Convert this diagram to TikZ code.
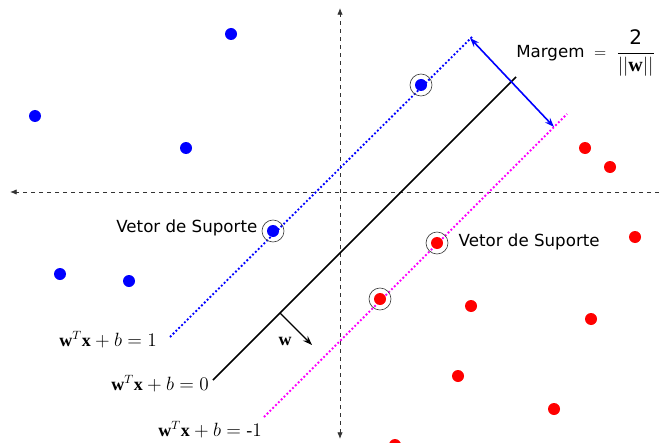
\documentclass[tikz,border=0pt]{standalone}
\usepackage{fontspec}
\setsansfont{DejaVu Sans}
\setmainfont{Liberation Serif}
\usetikzlibrary{arrows.meta}
\definecolor{rosa}{RGB}{255,0,255}

\begin{document}
\begin{tikzpicture}[x=0.75pt, y=-0.75pt, font=\sffamily\fontsize{12.5}{15}\selectfont,
    ponto/.style={circle, inner sep=0pt, minimum size=9pt},
    suporte/.style={circle, draw=black!75, line width=0.5pt, inner sep=0pt, minimum size=16.5pt},
    eixo/.style={dashed, line width=0.6pt, black!80},
    plano/.style={line width=1.4pt, dash pattern=on 1.4pt off 1.6pt},
    eq/.style={font=\rmfamily\fontsize{13.5}{16}\selectfont}]
    \useasboundingbox (0,0) rectangle (659,442);
    % Axes
    \coordinate (xd) at (659,192);
    \coordinate (xe) at (10,192);
    \coordinate (yb) at (340,439);
    \coordinate (yc) at (340,8);
    \draw[eixo, -{Latex[length=5pt,width=4pt]}] (xd) -- (xe);
    \draw[eixo, {Latex[length=5pt,width=4pt]}-{Latex[length=5pt,width=4pt]}] (yb) -- (yc);
    % Hyperplanes
    \coordinate (p1a) at (170,337);
    \coordinate (p1b) at (472,37);
    \coordinate (p0a) at (213,380);
    \coordinate (p0b) at (516,77);
    \coordinate (pma) at (264,417);
    \coordinate (pmb) at (567,114);
    \draw[plano, blue] (p1a) -- (p1b);
    \draw[line width=1.3pt] (p0a) -- (p0b);
    \draw[plano, rosa] (pma) -- (pmb);
    % Normal vector
    \coordinate (w0) at (280,313);
    \coordinate (w1) at (312,345);
    \draw[line width=0.9pt, -{Stealth[length=7pt,width=5pt]}] (w0) -- (w1);
    \node[eq] (wlbl) at (285,341) {$\mathbf{w}$};
    % Margin
    \coordinate (m1) at (470,38);
    \coordinate (m2) at (554,127);
    \draw[blue, line width=1.2pt, {Stealth[length=7pt,width=5pt]}-{Stealth[length=7pt,width=5pt]}] (m1) -- (m2);
    \node[anchor=west, inner sep=0pt] (margem) at (516,53) {Margem $\;=\;$ {\fontsize{15}{18}\selectfont$\displaystyle\frac{\textsf{2}}{||\mathbf{w}||}$}};
    % Blue class
    \foreach \nome/\p in {b1/{(231,34)}, b2/{(35,116)}, b3/{(186,148)}, b4/{(60,274)}, b5/{(129,281)}}
        \node[ponto, fill=blue] (\nome) at \p {};
    \node[suporte] (sb1) at (273,231) {};
    \node[suporte] (sb2) at (421,85) {};
    \node[ponto, fill=blue] at (sb1) {};
    \node[ponto, fill=blue] at (sb2) {};
    % Red class
    \foreach \nome/\p in {r1/{(585,148)}, r2/{(610,167)}, r3/{(635,237)}, r4/{(471,306)}, r5/{(591,319)}, r6/{(458,376)}, r7/{(554,409)}, r8/{(395,445)}}
        \node[ponto, fill=red] (\nome) at \p {};
    \node[suporte] (sr1) at (437,243) {};
    \node[suporte] (sr2) at (380,299) {};
    \node[ponto, fill=red] at (sr1) {};
    \node[ponto, fill=red] at (sr2) {};
    % Labels
    \node[anchor=east] (vs1) at (262,228) {Vetor de Suporte};
    \node[anchor=west] (vs2) at (454,242) {Vetor de Suporte};
    \node[eq] (eq1) at (108,340) {$\mathbf{w}^T\mathbf{x} + b = 1$};
    \node[eq] (eq0) at (160,384) {$\mathbf{w}^T\mathbf{x} + b = 0$};
    \node[eq] (eqm) at (210,430) {$\mathbf{w}^T\mathbf{x} + b = \mbox{-}1$};
\end{tikzpicture}
\end{document}
